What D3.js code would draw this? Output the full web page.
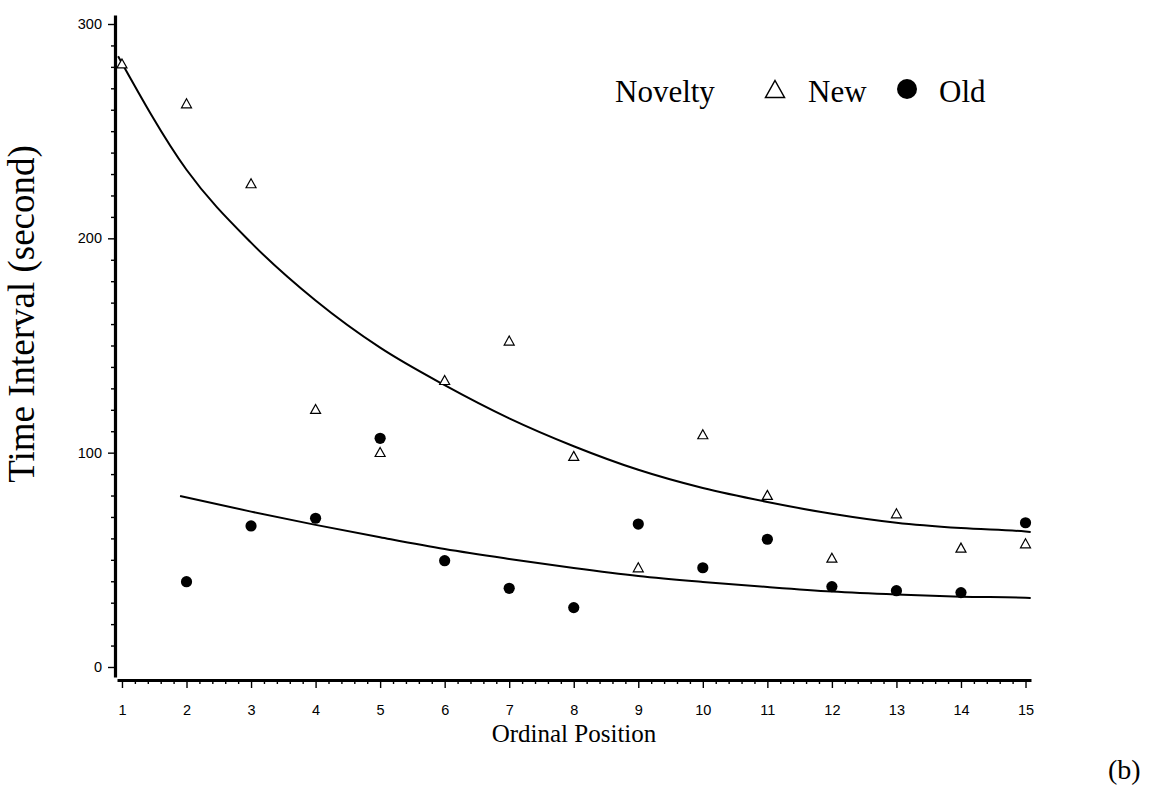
<!DOCTYPE html>
<html>
<head>
<meta charset="utf-8">
<script src="https://cdn.jsdelivr.net/npm/d3@7"></script>
<style>
  body { margin: 0; background: #fff; }
  svg { display: block; }
  .axis path.domain { stroke: #000; stroke-width: 3.2; }
  .axis line { stroke: #000; stroke-width: 1.4; }
  .axis text { font-family: "Liberation Sans", Arial, sans-serif; font-size: 14.5px; fill: #000; }
  .serif { font-family: "Liberation Serif", "Times New Roman", serif; fill: #000; }
</style>
</head>
<body>
<div id="chart"></div>
<script>
// data
const newPositions = [1, 2, 3, 4, 5, 6, 7, 8, 9, 10, 11, 12, 13, 14, 15];
const newTimes = [281.6, 263.0, 225.7, 120.4, 100.3, 133.9, 152.3, 98.5, 46.5, 108.6, 80.3, 51.0, 71.7, 55.7, 57.7];

const oldPositions = [2, 3, 4, 5, 6, 7, 8, 9, 10, 11, 12, 13, 14, 15];
const oldTimes = [39.8, 65.8, 69.4, 106.7, 49.6, 36.7, 27.7, 66.7, 46.3, 59.6, 37.5, 35.6, 34.7, 67.3];

// fitted curves
const newFitX = [0.94, 2, 3, 4, 5, 6, 7, 8, 9, 10, 11, 12, 13, 14, 15, 15.08];
const newFitY = [285, 232, 198, 171, 149, 131.5, 116, 103, 92, 83.5, 77, 71.5, 67.3, 64.8, 63.2, 63];
const oldFitX = [1.9, 3, 4, 5, 6, 7, 8, 9, 10, 11, 12, 13, 14, 15, 15.08];
const oldFitY = [79.8, 72.5, 66.3, 60.5, 55, 50.4, 46.2, 42.5, 39.7, 37.3, 35.2, 33.8, 32.8, 32.3, 32.2];

const xTicks = [1, 2, 3, 4, 5, 6, 7, 8, 9, 10, 11, 12, 13, 14, 15];
const yTicks = [0, 100, 200, 300];

const width = 1170;
const height = 790;

const svg = d3.select('#chart').append('svg')
    .attr('width', width)
    .attr('height', height);

const xScale = d3.scaleLinear()
    .domain([0.923, 15.085])
    .range([117, 1031]);

const yScale = d3.scaleLinear()
    .domain([-4.67, 304.2])
    .range([677, 15]);

// minor ticks
const xMinor = d3.range(1, 15.001, 0.2).filter(v => Math.abs(v - Math.round(v)) > 0.01);
const yMinor = d3.range(0, 301, 10).filter(v => v % 100 !== 0);

svg.append('g')
    .attr('class', 'axis')
    .attr('transform', 'translate(0,680)')
    .call(d3.axisBottom(xScale).tickValues(xMinor).tickSize(4).tickSizeOuter(0).tickFormat(''))
    .select('.domain').remove();

svg.append('g')
    .attr('class', 'x axis')
    .attr('transform', 'translate(0,680)')
    .call(d3.axisBottom(xScale).tickValues(xTicks).tickSize(8).tickSizeOuter(0).tickPadding(17));

svg.append('g')
    .attr('class', 'axis')
    .attr('transform', 'translate(115,0)')
    .call(d3.axisLeft(yScale).tickValues(yMinor).tickSize(4).tickSizeOuter(0).tickFormat(''))
    .select('.domain').remove();

svg.append('g')
    .attr('class', 'y axis')
    .attr('transform', 'translate(115,0)')
    .call(d3.axisLeft(yScale).tickValues(yTicks).tickSize(7).tickSizeOuter(0).tickPadding(6));

// fitted curves
const line = d3.line()
    .x(d => xScale(d[0]))
    .y(d => yScale(d[1]))
    .curve(d3.curveMonotoneX);

svg.append('path')
    .datum(d3.zip(newFitX, newFitY))
    .attr('fill', 'none')
    .attr('stroke', '#000')
    .attr('stroke-width', 2)
    .attr('d', line);

svg.append('path')
    .datum(d3.zip(oldFitX, oldFitY))
    .attr('fill', 'none')
    .attr('stroke', '#000')
    .attr('stroke-width', 2)
    .attr('d', line);

// markers
function triPath(w, h) {
    return 'M0,' + (-h / 2) + 'L' + (w / 2) + ',' + (h / 2) + 'L' + (-w / 2) + ',' + (h / 2) + 'Z';
}

svg.selectAll('.tri')
    .data(d3.zip(newPositions, newTimes))
    .enter().append('path')
    .attr('class', 'tri')
    .attr('transform', d => 'translate(' + xScale(d[0]) + ',' + yScale(d[1]) + ')')
    .attr('d', triPath(10, 9))
    .attr('fill', '#fff')
    .attr('stroke', '#000')
    .attr('stroke-width', 1.2);

svg.selectAll('.dot')
    .data(d3.zip(oldPositions, oldTimes))
    .enter().append('circle')
    .attr('class', 'dot')
    .attr('cx', d => xScale(d[0]))
    .attr('cy', d => yScale(d[1]))
    .attr('r', 5.6)
    .attr('fill', '#000');

// legend
svg.append('text').attr('class', 'serif')
    .attr('x', 615).attr('y', 102)
    .style('font-size', '31px')
    .text('Novelty');
svg.append('path')
    .attr('transform', 'translate(775,89)')
    .attr('d', triPath(19, 17))
    .attr('fill', '#fff')
    .attr('stroke', '#000')
    .attr('stroke-width', 1.5);
svg.append('text').attr('class', 'serif')
    .attr('x', 808).attr('y', 102)
    .style('font-size', '31px')
    .text('New');
svg.append('circle')
    .attr('cx', 907).attr('cy', 89).attr('r', 10)
    .attr('fill', '#000');
svg.append('text').attr('class', 'serif')
    .attr('x', 939).attr('y', 102)
    .style('font-size', '31px')
    .text('Old');

// axis titles
svg.append('text').attr('class', 'serif')
    .attr('x', 574).attr('y', 742)
    .attr('text-anchor', 'middle')
    .style('font-size', '25px')
    .text('Ordinal Position');

svg.append('text').attr('class', 'serif')
    .attr('transform', 'translate(34,314) rotate(-90)')
    .attr('text-anchor', 'middle')
    .style('font-size', '37px')
    .text('Time Interval (second)');

svg.append('text').attr('class', 'serif')
    .attr('x', 1108).attr('y', 779)
    .style('font-size', '28px')
    .text('(b)');
</script>
</body>
</html>
